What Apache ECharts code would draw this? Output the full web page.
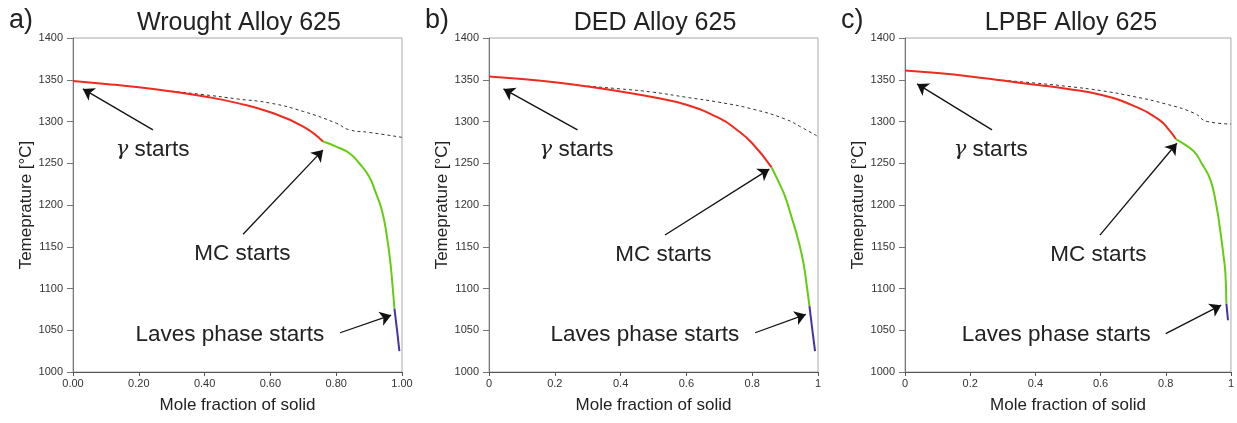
<!DOCTYPE html>
<html lang="en">
<head>
    <meta charset="UTF-8" />
    <title>Alloy 625 solidification</title>
    <style>
        html, body { margin: 0; padding: 0; background: #fff; }
    </style>
</head>
<body>
<div id="main" style="width: 1237px; height: 423px;"></div>
<script src="https://cdn.jsdelivr.net/npm/echarts@6/dist/echarts.min.js"></script>
<script type="text/javascript">
    // 面板标题
    var panelTags = ['a)', 'b)', 'c)'];
    var panelTitles = ['Wrought Alloy 625', 'DED Alloy 625', 'LPBF Alloy 625'];
    var yTicks = [1000, 1400, 50];

    // a) Wrought  [mole fraction, T]
    var redA = [[0, 1348.5], [0.1, 1345], [0.2, 1341], [0.3, 1336], [0.4, 1330], [0.5, 1322], [0.6, 1311], [0.7, 1294], [0.76, 1276]];
    var greenA = [[0.76, 1276], [0.8, 1270], [0.84, 1262], [0.87, 1250], [0.9, 1234], [0.92, 1215], [0.94, 1192], [0.955, 1160], [0.965, 1130], [0.972, 1100], [0.977, 1076]];
    var blueA = [[0.977, 1076], [0.985, 1050], [0.992, 1025]];
    var dashA = [[0.28, 1337], [0.4, 1332], [0.5, 1327], [0.6, 1322], [0.7, 1312], [0.8, 1298], [0.84, 1290], [0.9, 1287], [1.0, 1281]];

    // b) DED
    var redB = [[0, 1354], [0.1, 1351], [0.2, 1347], [0.3, 1342], [0.4, 1336], [0.5, 1329], [0.6, 1320], [0.7, 1304], [0.75, 1291], [0.8, 1274], [0.859, 1245]];
    var greenB = [[0.859, 1245], [0.88, 1228], [0.9, 1210], [0.92, 1185], [0.94, 1158], [0.956, 1130], [0.967, 1100], [0.974, 1079]];
    var blueB = [[0.974, 1079], [0.983, 1050], [0.991, 1025]];
    var dashB = [[0.28, 1343], [0.4, 1339], [0.5, 1335], [0.6, 1329], [0.7, 1323], [0.8, 1315], [0.9, 1303], [0.95, 1293], [1.0, 1282]];

    // c) LPBF
    var redC = [[0, 1361], [0.1, 1358], [0.2, 1354], [0.3, 1349], [0.4, 1344], [0.5, 1339], [0.6, 1332], [0.7, 1319], [0.78, 1302], [0.81, 1290], [0.831, 1279]];
    var greenC = [[0.831, 1279], [0.86, 1272], [0.887, 1264], [0.91, 1250], [0.937, 1230], [0.955, 1200], [0.967, 1170], [0.977, 1140], [0.983, 1118], [0.986, 1082]];
    var blueC = [[0.986, 1082], [0.991, 1062]];
    var dashC = [[0.28, 1350], [0.4, 1346], [0.5, 1342], [0.6, 1337], [0.7, 1330], [0.8, 1321], [0.887, 1310], [0.927, 1300], [1.0, 1297]];

    // 注释: [文字中心, 箭头起点, 箭头终点]
    var notesA = [[[0.242, 1266], [0.243, 1290], [0.030, 1339]], [[0.515, 1141], [0.517, 1165], [0.760, 1266]], [[0.477, 1044], [0.812, 1047], [0.967, 1068]]];
    var notesB = [[[0.266, 1266], [0.269, 1290], [0.044, 1339]], [[0.530, 1140], [0.535, 1164], [0.852, 1243]], [[0.474, 1044], [0.809, 1047], [0.963, 1069]]];
    var notesC = [[[0.263, 1266], [0.267, 1290], [0.037, 1345]], [[0.593, 1140], [0.598, 1164], [0.834, 1274]], [[0.464, 1044], [0.800, 1046], [0.970, 1080]]];
    var noteTexts = ['{g|γ} starts', 'MC starts', 'Laves phase starts'];

    var panels = [
        { red: redA, green: greenA, blue: blueA, dash: dashA, notes: notesA, fmt: function (v) { return v.toFixed(2); } },
        { red: redB, green: greenB, blue: blueB, dash: dashB, notes: notesB, fmt: function (v) { return String(Math.round(v * 10) / 10); } },
        { red: redC, green: greenC, blue: blueC, dash: dashC, notes: notesC, fmt: function (v) { return String(Math.round(v * 10) / 10); } }
    ];

    var gridLefts = [73, 489, 905];
    var font = "'Liberation Sans', Arial, sans-serif";

    var myChart = echarts.init(document.getElementById('main'));

    var grids = [], xAxes = [], yAxes = [], series = [], titles = [], graphics = [];

    panels.forEach(function (p, i) {
        grids.push({ left: gridLefts[i], top: 38, width: 329, height: 334, show: true, borderColor: '#a8a8a8', borderWidth: 1, containLabel: false });
        xAxes.push({
            gridIndex: i, type: 'value', min: 0, max: 1, interval: 0.2,
            name: 'Mole fraction of solid', nameLocation: 'middle', nameGap: 25,
            nameTextStyle: { fontFamily: font, fontSize: 17, color: '#222' },
            axisLine: { lineStyle: { color: '#555' } },
            axisTick: { length: 4, lineStyle: { color: '#555' } },
            axisLabel: { fontFamily: font, fontSize: 11, color: '#333', margin: 6, formatter: p.fmt },
            splitLine: { show: false }
        });
        yAxes.push({
            gridIndex: i, type: 'value', min: yTicks[0], max: yTicks[1], interval: yTicks[2],
            name: 'Temeprature [°C]', nameLocation: 'middle', nameGap: 37,
            nameTextStyle: { fontFamily: font, fontSize: 17, color: '#222' },
            axisLine: { show: true, lineStyle: { color: '#777' } },
            axisTick: { show: true, length: 6, lineStyle: { color: '#777' } },
            axisLabel: { fontFamily: font, fontSize: 11, color: '#333', margin: 10, formatter: function (v) { return String(v); } },
            splitLine: { show: false }
        });
        titles.push({
            text: panelTitles[i], left: gridLefts[i] + 161, top: 6, textAlign: 'center',
            textStyle: { fontFamily: font, fontSize: 25, fontWeight: 'normal', color: '#222' }
        });
        graphics.push({
            type: 'text', left: gridLefts[i] - 64, top: 7,
            style: { text: panelTags[i], font: "27px 'Liberation Sans', Arial, sans-serif", fill: '#222' }
        });

        var base = { type: 'line', xAxisIndex: i, yAxisIndex: i, showSymbol: false, smooth: true, silent: true };
        series.push(Object.assign({}, base, {
            data: p.dash, lineStyle: { color: '#333', width: 1, type: [3, 3] },
            markLine: {
                silent: true, symbol: ['none', 'arrow'], symbolSize: 11,
                lineStyle: { color: '#111', width: 1.3, type: 'solid' }, label: { show: false },
                data: p.notes.map(function (n) { return [{ coord: n[1] }, { coord: n[2] }]; })
            },
            markPoint: {
                silent: true, symbol: 'circle', symbolSize: 0,
                data: p.notes.map(function (n, k) {
                    return {
                        coord: n[0],
                        label: {
                            show: true, position: 'inside', formatter: noteTexts[k],
                            fontFamily: font, fontSize: 22.5, color: '#222',
                            rich: { g: { fontFamily: "'DejaVu Serif', serif", fontStyle: 'italic', fontSize: 21, color: '#222' } }
                        }
                    };
                })
            }
        }));
        series.push(Object.assign({}, base, { data: p.red, lineStyle: { color: '#f02a1e', width: 2 } }));
        series.push(Object.assign({}, base, { data: p.green, lineStyle: { color: '#66cc11', width: 2 } }));
        series.push(Object.assign({}, base, { data: p.blue, lineStyle: { color: '#4433a8', width: 2 } }));
    });

    var option = {
        animation: false,
        backgroundColor: '#fff',
        title: titles,
        graphic: graphics,
        grid: grids,
        xAxis: xAxes,
        yAxis: yAxes,
        series: series
    };

    myChart.setOption(option);
</script>
</body>
</html>
